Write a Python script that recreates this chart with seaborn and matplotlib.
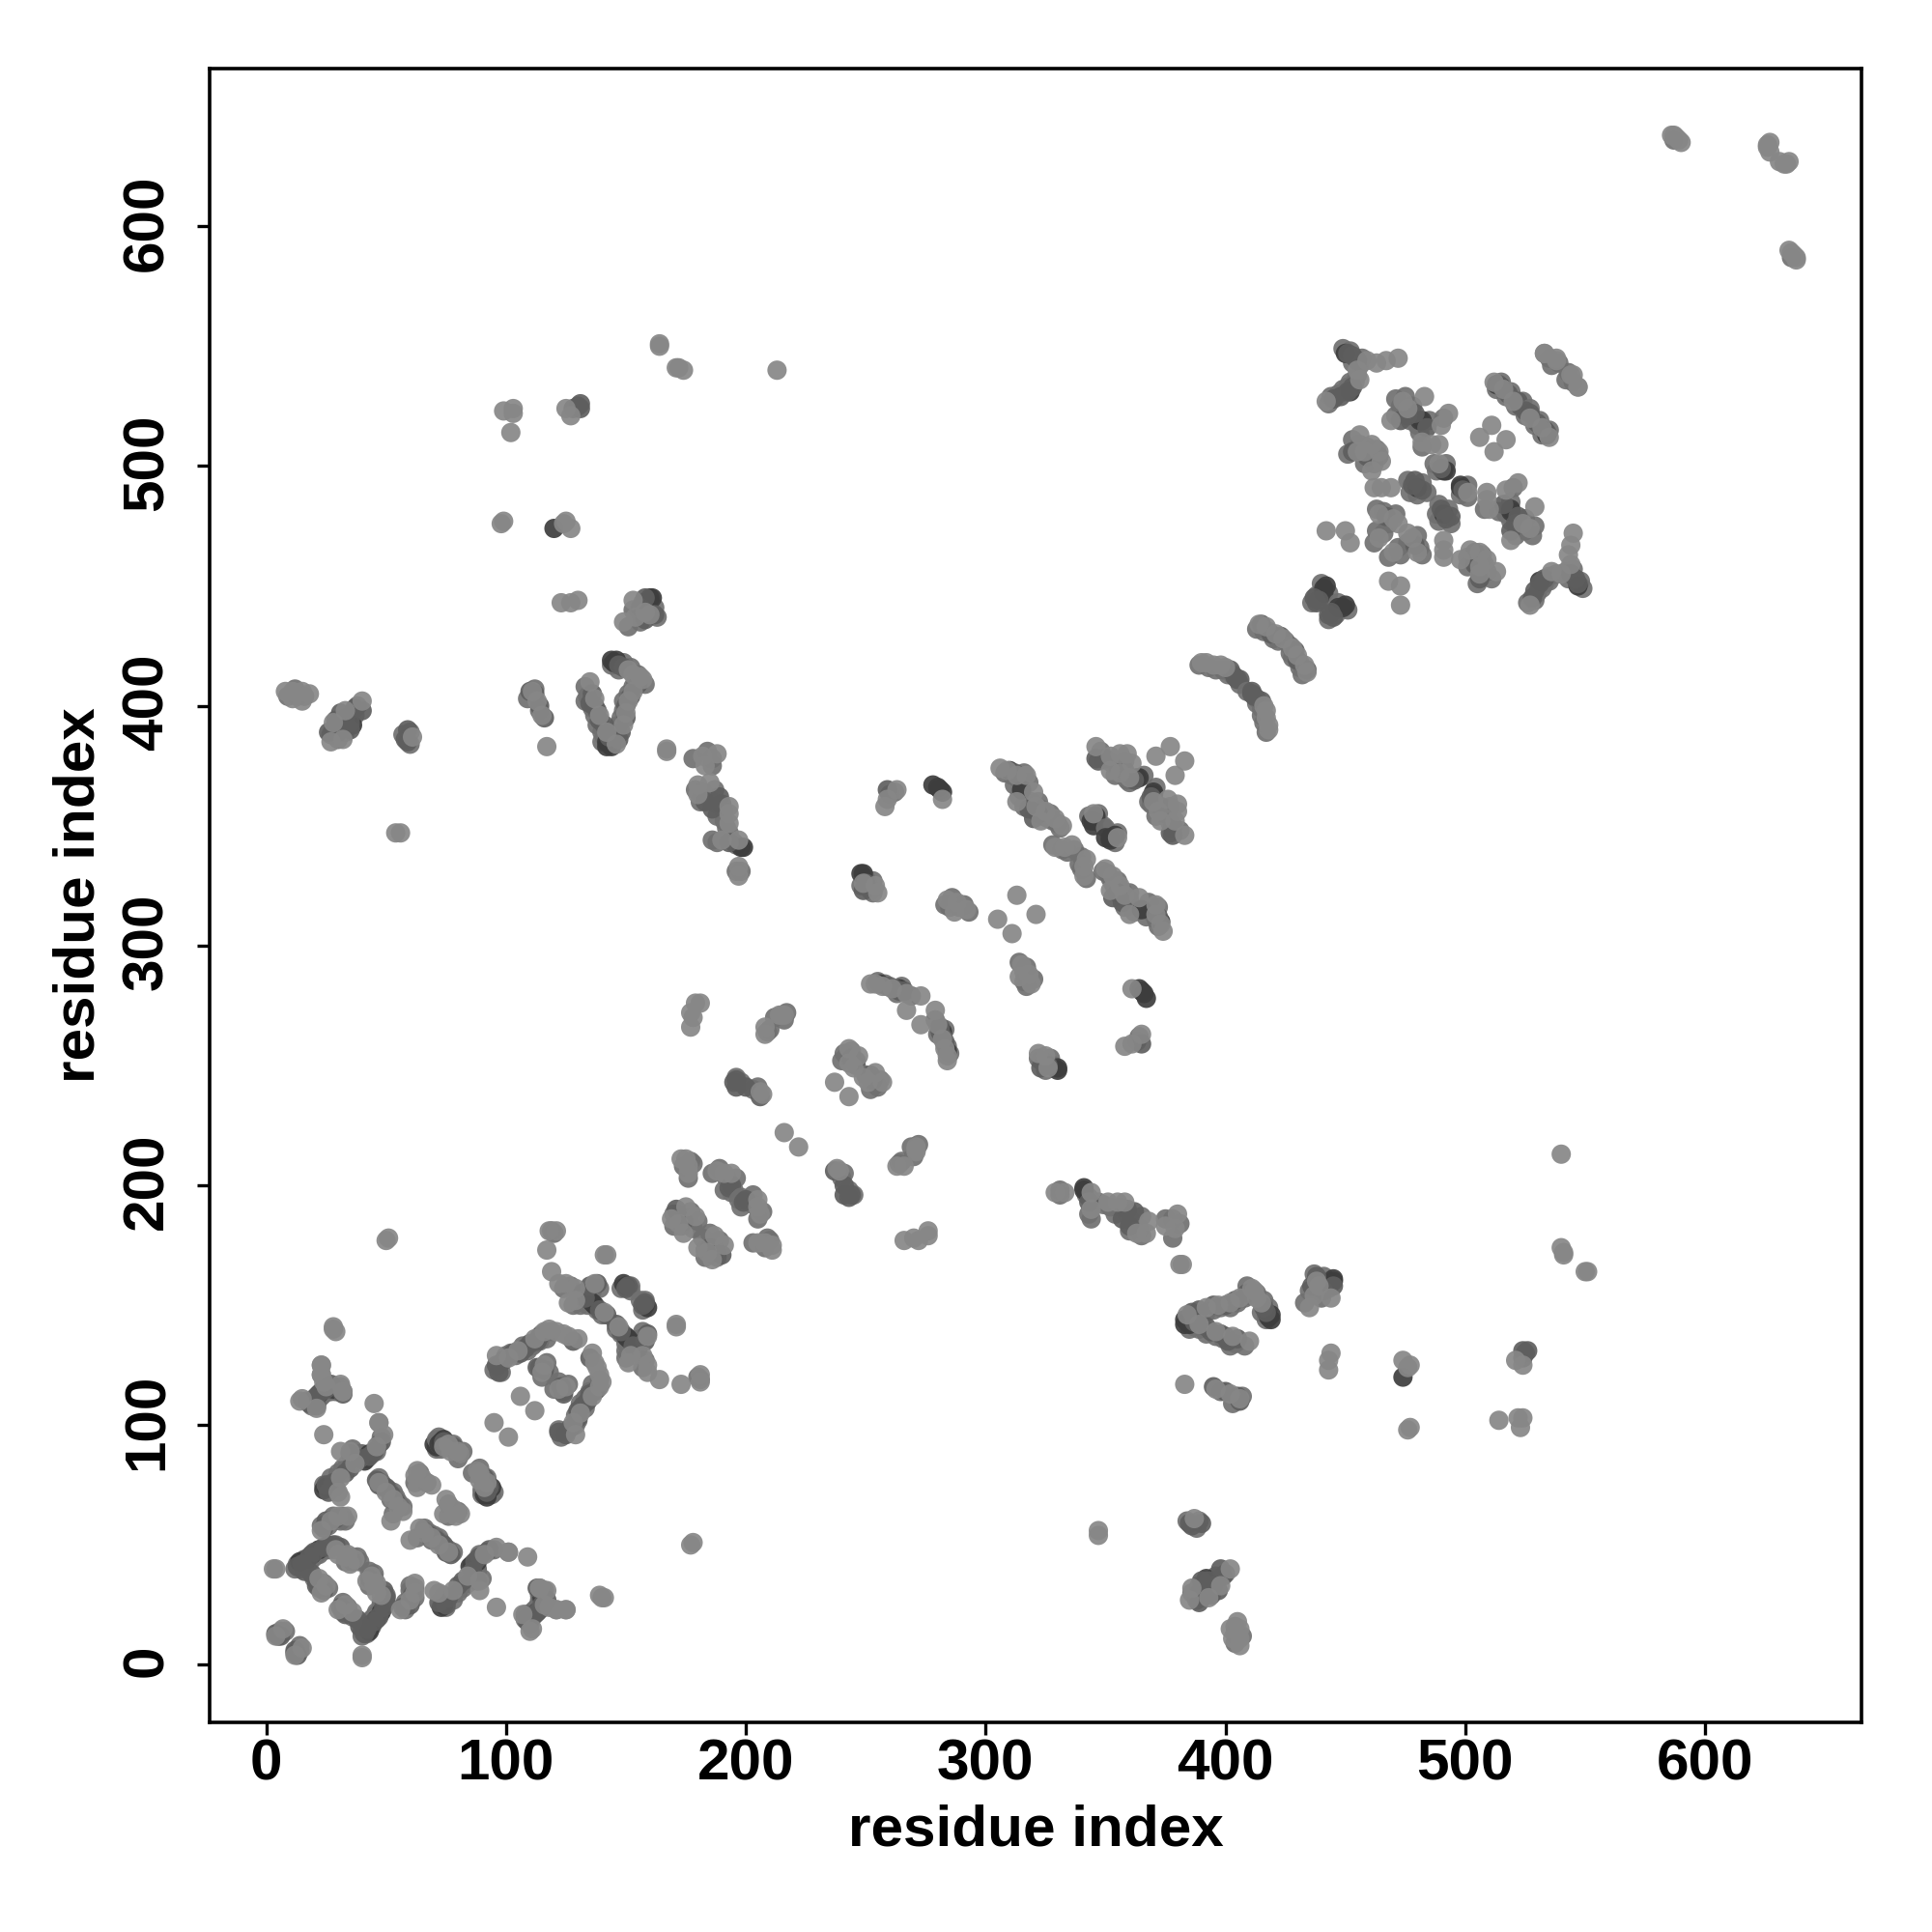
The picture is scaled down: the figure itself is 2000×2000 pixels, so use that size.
import pandas as pd
import seaborn as sns
import matplotlib.pyplot as plt
from matplotlib.transforms import ScaledTranslation

# contacts, upper triangle only (res_i < res_j), map is symmetric
light_contacts = [
    (28,140),(29,139),(23,125),(23,121),(24,118),(14,110),(25,116),(21,107),(32,114),(24,96),
    (45,109),(47,101),(49,96),(46,91),(37,84),(31,78),(30,72),(35,89),(31,89),(31,70),
    (47,76),(50,72),(53,69),(55,66),(57,64),(52,60),(74,91),(77,89),(81,88),(89,80),(92,76),
    (63,81),(62,79),(63,74),(69,75),(65,78),(23,56),(27,60),(30,62),(34,62),(3,40),(4,40),
    (34,46),(37,44),(35,42),(33,45),(22,36),(25,33),(23,30),(7,15),(12,4),(29,48),(30,46),
    (15,111),(23,121),(23,125),(31,117),(32,114),(28,141),(101,47),(95,101),(106,112),
    (96,129),(101,128),(105,131),(112,136),(116,139),(118,140),(121,139),(124,138),(126,137),(130,136),
    (116,125),(115,122),(118,181),(121,181),(117,173),(141,171),(142,171),(119,164),(122,159),(125,159),
    (129,157),(126,151),(129,152),(137,159),(141,147),(177,272),(179,276),(181,276),(178,270),(177,266),
    (208,263),(208,266),(215,271),(216,271),(214,271),(206,239),(207,238),(216,222),
    (243,257),(247,254),(243,251),(237,243),(245,249),(175,211),(176,208),(176,205),(173,211),
    (188,206),(191,205),(194,205),(169,186),(175,191),(179,187),(174,180),(172,184),
    (167,382),(182,379),(188,380),(183,375),(180,367),(185,368),(180,363),(193,358),(193,355),(193,351),
    (190,344),(197,344),(197,333),(197,329),(263,365),(259,361),(258,358),(282,361),(249,326),(254,325),(255,322),
    (284,319),(288,318),(287,314),(292,315),(305,311),(313,321),(252,284),(254,284),(257,283),(261,282),
    (267,280),(273,279),(267,273),(306,374),(309,373),(317,371),(313,371),(313,360),(320,364),(321,358),
    (325,356),(329,353),(332,350),(323,352),(329,341),(333,341),(336,342),(345,355),(346,383),(352,379),
    (356,380),(359,380),(361,376),(352,373),(356,372),(371,379),(377,383),(360,370),
    (8,406),(11,406),(15,406),(18,405),(11,403),(15,402),(40,402),(33,398),(28,393),(27,385),(32,386),
    (61,387),(111,406),(113,402),(115,396),(117,383),(135,410),(137,403),(139,396),(142,389),(146,384),
    (149,392),(150,397),(151,402),(153,406),(157,411),(156,412),(153,413),(151,415),(167,381),
    (50,177),(51,178),(54,347),(56,347),(164,550),(164,551),(172,541),(171,541),(174,540),(213,540),
    (99,523),(103,524),(103,522),(102,514),(125,524),(127,521),(98,476),(99,477),(124,476),(127,474),(125,477),
    (123,443),(127,443),(130,444),(153,444),(158,439),(149,435),(154,437),(160,438),
    (390,418),(392,418),(395,417),(398,417),(400,416),(414,434),(417,433),(421,430),(424,428),
    (442,527),(456,536),(459,544),(463,543),(467,544),(472,545),(455,540),(474,527),(483,529),(476,524),(469,519),
    (493,522),(490,517),(482,510),(489,509),(486,509),(512,535),(516,532),(520,527),(533,547),(538,545),(544,538),(547,533),
    (506,512),(511,517),(456,513),(455,506),(461,509),(458,506),(464,506),(461,498),(465,502),
    (462,491),(465,491),(469,491),(464,480),(470,478),(472,476),(464,470),(442,473),(450,473),(452,468),
    (489,501),(586,638),(587,638),(588,637),(590,635),(589,636),(627,635),(626,634),(627,631),(626,633),
]
mid_contacts = [
    (18,109),(20,111),(23,114),(26,116),(32,113),(48,93),(45,89),(43,87),(39,86),(35,88),(35,82),(33,80),
    (28,76),(25,75),(26,72),(46,77),(47,75),(50,74),(52,71),(54,68),(72,92),(88,81),(91,78),(93,74),
    (24,57),(25,60),(29,61),(13,41),(15,42),(18,45),(20,47),(24,49),(26,50),(28,50),(31,49),(27,49),
    (16,39),(36,43),(19,38),(21,33),(24,31),(5,12),(6,12),(4,13),(21,108),(20,110),(21,112),(25,115),(27,117),
    (97,122),(96,125),(99,127),(103,130),(106,130),(108,132),(110,134),(113,135),(114,137),(128,135),(113,124),(116,123),
    (133,153),(135,158),(138,159),(139,148),(142,146),(150,157),(151,158),(195,243),(196,241),(200,241),(206,237),(196,244),
    (246,252),(244,253),(194,200),(193,199),(171,190),(174,185),(183,360),(189,362),(186,357),(190,359),(193,343),(259,365),
    (249,323),(250,326),(259,283),(262,282),(264,281),(266,281),(312,372),(318,357),(320,353),(346,378),(347,377),
    (350,378),(355,375),(358,373),(362,369),(37,399),(35,393),(26,389),(35,390),(30,389),(33,395),(31,397),(29,394),(40,398),
    (59,390),(59,385),(58,386),(110,406),(112,405),(114,400),(116,395),(136,405),(135,401),(137,400),(138,398),(139,394),
    (141,392),(143,387),(147,386),(148,389),(150,395),(150,400),(152,404),(155,409),(149,416),(147,417),
    (128,524),(131,526),(131,524),(130,525),(158,445),(162,438),(158,436),(156,441),(402,415),(404,412),(405,411),(406,411),
    (415,434),(419,430),(423,429),(445,528),(448,529),(451,531),(453,533),(451,547),(453,546),(455,544),(476,521),(479,522),
    (473,519),(484,516),(514,534),(518,530),(522,527),(523,525),(453,506),(459,504),(464,504),(479,494),(478,492),(482,490),
    (490,499),(467,479),(438,443),(437,445),(439,444),
]
dark_contacts = [
    (28,115),(22,113),(24,115),(19,110),(17,44),(19,46),(22,48),(14,43),(24,73),(25,74),(41,85),(43,88),
    (70,92),(71,92),(71,91),(93,73),(92,72),(94,74),(137,150),(136,151),(134,153),(132,155),(149,159),(150,158),
    (198,341),(199,341),(248,330),(249,330),(278,367),(280,366),(281,365),(282,364),(256,284),(264,282),
    (345,352),(344,352),(345,350),(346,354),(364,370),(363,370),(36,392),(33,393),(142,385),(143,384),(142,383),
    (144,383),(145,418),(146,419),(144,419),(120,474),(161,445),(160,445),(452,531),(450,547),(482,519),(481,519),
    (513,534),(515,533),(491,498),(492,498),(480,491),(441,449),(442,450),(441,447),(310,373),(315,365),(322,355),
]
# neighbouring contacts that fatten the denser strands
strand_contacts = [
    (13,42),(15,41),(16,44),(17,42),(18,43),(19,44),(20,45),(21,46),(22,46),(23,48),(25,48),(26,48),(29,50),(12,40),(14,40),
    (21,110),(22,111),(23,112),(24,113),(25,114),(26,114),(19,108),(17,110),(27,114),(29,114),(30,115),(31,116),
    (40,88),(42,86),(44,88),(46,89),(47,92),(48,95),(36,86),(34,84),(32,82),(30,80),(29,74),(27,78),(24,75),(36,90),(39,88),
    (47,78),(48,76),(49,74),(51,73),(52,69),(53,72),(54,70),(55,68),(56,66),(57,66),(53,63),(64,80),(67,76),(62,76),
    (71,90),(73,90),(75,92),(78,90),(80,86),(79,89),(89,82),(90,78),(92,78),(94,71),(95,72),
    (23,58),(26,58),(28,62),(31,60),(32,62),(33,60),(22,32),(20,36),(24,34),(26,32),(36,45),(38,45),(39,43),(33,43),(35,44),
    (5,13),(6,14),(8,14),(97,125),(98,122),(95,123),(100,129),(102,130),(104,129),(107,133),(109,131),(111,133),(112,134),
    (114,135),(115,138),(117,136),(119,139),(114,124),(117,126),(115,120),(118,122),
    (124,157),(127,158),(130,155),(131,154),(132,152),(134,150),(135,152),(138,148),(140,146),(128,150),(131,150),(136,156),
    (139,157),(148,157),(152,158),(152,156),(119,181),(120,180),(196,245),(198,243),(203,240),(205,241),(209,264),(210,265),
    (216,269),(217,272),(212,270),(174,208),(177,210),(178,209),(176,203),(186,205),(189,207),(192,203),(196,203),(195,198),
    (191,198),(194,197),(170,188),(172,188),(173,183),(176,186),(177,189),(180,185),(178,182),(170,183),
    (241,255),(244,256),(246,250),(240,252),(242,254),(178,378),(184,381),(186,378),(186,375),(179,365),(181,360),(182,364),
    (184,362),(187,365),(188,359),(186,360),(191,356),(191,352),(188,354),(192,349),(193,347),(186,344),(188,343),(195,343),
    (196,342),(196,331),(198,331),(260,363),(262,364),(250,328),(251,325),(252,323),(253,327),(253,322),(248,325),
    (283,317),(286,320),(285,316),(289,316),(291,317),(293,314),(255,285),(258,284),(260,283),(263,280),(265,283),(269,279),
    (308,372),(311,371),(314,369),(316,372),(318,368),(312,367),(314,362),(316,358),(319,360),(322,360),(323,357),(324,354),
    (326,353),(327,355),(328,352),(330,351),(331,349),(328,342),(332,340),(334,339),(337,340),
    (343,354),(347,355),(346,352),(349,350),(348,381),(349,378),(351,377),(353,376),(357,376),(358,377),(354,371),(359,369),
    (360,368),(366,371),(9,404),(13,404),(16,404),(12,407),(38,400),(36,397),(34,394),(31,392),(29,392),(28,390),(27,388),
    (30,386),(33,389),(37,396),(60,389),(57,388),(60,384),(109,403),(114,398),(112,407),(133,408),(134,404),(133,402),
    (136,399),(137,396),(138,392),(140,389),(141,387),(140,385),(144,385),(145,387),(146,389),(147,392),(148,395),(149,398),
    (149,402),(151,405),(153,408),(154,410),(158,409),(155,413),(152,416),(149,418),(147,415),(144,417),
    (151,433),(153,440),(155,438),(156,435),(157,443),(159,441),(160,443),(162,441),(163,437),
    (389,417),(393,416),(396,415),(399,415),(401,413),(403,413),(406,409),(413,432),(416,431),(418,431),(420,428),(422,427),(425,427),
    (443,526),(444,529),(447,530),(449,532),(451,533),(452,535),(455,538),(454,535),(449,549),(452,548),(456,542),(457,545),(453,543),
    (471,521),(473,525),(478,525),(477,519),(480,517),(485,519),(481,514),(475,529),(471,528),(491,520),(482,508),
    (513,532),(515,535),(517,529),(519,531),(521,525),(524,527),(539,543),(542,536),(545,535),(453,511),(456,509),(459,508),
    (451,505),(458,501),(463,507),(462,501),(460,504),(476,494),(477,489),(480,488),(482,493),(484,489),(488,498),(487,501),
    (492,501),(463,482),(466,481),(468,476),(471,480),(462,468),(466,472),(463,473),(436,443),(440,446),(443,447),(440,451),
    (438,446),(587,636),
]

# drawing order matters, later dots sit on top of the earlier ones
rows = []
for shade, contacts in [(0.44, strand_contacts), (0.24, dark_contacts), (0.37, mid_contacts), (0.53, light_contacts)]:
    for i, j in contacts:
        rows.append({'res_i': i, 'res_j': j, 'shade': shade})
df = pd.DataFrame(rows)
# mirror across the diagonal
mirrored = df.rename(columns={'res_i': 'res_j', 'res_j': 'res_i'})
df = pd.concat([df[df['shade'] != 0.53], mirrored[mirrored['shade'] != 0.53],
                df[df['shade'] == 0.53], mirrored[mirrored['shade'] == 0.53]])

sns.set_theme(style='white')
plt.rcParams['font.family'] = ['Liberation Sans', 'DejaVu Sans']

fig = plt.figure(figsize=(10, 10), dpi=200)
ax = fig.add_axes([217/2000, 217/2000, 1710/2000, 1712/2000])
sns.scatterplot(data=df, x='res_i', y='res_j', hue='shade', palette='gray', hue_norm=(0, 1),
                s=52, linewidth=0, alpha=0.92, legend=False, ax=ax)
ax.set_xlim(-23.6, 665.2)
ax.set_ylim(-24, 665.8)
ax.set_xticks([0, 100, 200, 300, 400, 500, 600])
ax.set_yticks([0, 100, 200, 300, 400, 500, 600])
ax.tick_params(axis='both', which='major', direction='out', length=4.7, width=1.2, color='black',
               left=True, bottom=True, labelsize=21.7, labelcolor='black')
ax.tick_params(axis='x', pad=1.2)
ax.tick_params(axis='y', pad=8.5)
for lab in ax.get_xticklabels():
    lab.set_fontweight('bold')
nudge = ScaledTranslation(0, 1.4 / 72, fig.dpi_scale_trans)
for lab in ax.get_yticklabels():
    lab.set_fontweight('bold')
    lab.set_rotation(90)
    lab.set_va('center')
    lab.set_transform(lab.get_transform() + nudge)
for side in ax.spines.values():
    side.set_color('black')
    side.set_linewidth(1.3)
ax.set_xlabel('residue index', fontsize=21.7, fontweight='bold', color='black', labelpad=4.7)
ax.set_ylabel('residue index', fontsize=21.7, fontweight='bold', color='black', labelpad=5.8)

plt.savefig('out.png', dpi=200)
plt.close()
